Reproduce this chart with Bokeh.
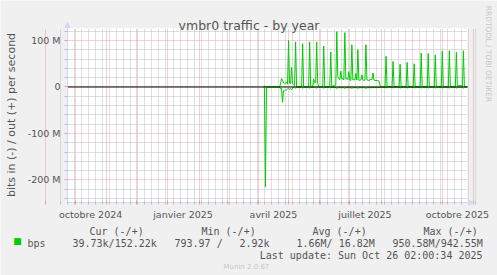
import math
import pandas as pd
from bokeh.plotting import figure
from bokeh.models import (FixedTicker, Label, Arrow, NormalHead, ColumnDataSource,
                          LinearAxis, Grid, BoxAnnotation)
from bokeh.embed import file_html
from bokeh.resources import INLINE

# ---------------- data (Mbit/s) ----------------
out_dates = [
    "2025-04-06", "2025-04-07", "2025-04-08", "2025-04-17", "2025-04-18", "2025-04-19",
    "2025-04-22", "2025-04-23", "2025-04-24", "2025-04-25", "2025-04-26", "2025-04-27",
    "2025-04-28", "2025-04-29", "2025-04-30", "2025-05-01", "2025-05-02", "2025-05-03",
    "2025-05-04", "2025-05-05", "2025-05-06", "2025-05-07", "2025-05-08", "2025-05-09",
    "2025-05-14", "2025-05-15", "2025-05-16", "2025-05-21", "2025-05-22", "2025-05-23",
    "2025-05-25", "2025-05-26", "2025-05-27", "2025-05-28", "2025-05-29", "2025-05-30",
    "2025-05-31", "2025-06-01", "2025-06-04", "2025-06-05", "2025-06-06", "2025-06-11",
    "2025-06-12", "2025-06-13", "2025-06-14", "2025-06-16", "2025-06-17", "2025-06-18",
    "2025-06-19", "2025-06-20", "2025-06-21", "2025-06-22", "2025-06-23", "2025-06-24",
    "2025-06-25", "2025-06-26", "2025-06-27", "2025-06-28", "2025-06-29", "2025-06-30",
    "2025-07-01", "2025-07-02", "2025-07-03", "2025-07-04", "2025-07-05", "2025-07-06",
    "2025-07-07", "2025-07-08", "2025-07-09", "2025-07-10", "2025-07-11", "2025-07-12",
    "2025-07-13", "2025-07-14", "2025-07-15", "2025-07-16", "2025-07-17", "2025-07-18",
    "2025-07-19", "2025-07-20", "2025-07-21", "2025-07-22", "2025-07-23", "2025-07-24",
    "2025-07-25", "2025-07-26", "2025-07-28", "2025-07-29", "2025-07-30", "2025-07-31",
    "2025-08-01", "2025-08-05", "2025-08-06", "2025-08-07", "2025-08-12", "2025-08-13",
    "2025-08-14", "2025-08-19", "2025-08-20", "2025-08-21", "2025-08-26", "2025-08-27",
    "2025-08-28", "2025-09-02", "2025-09-03", "2025-09-04", "2025-09-09", "2025-09-10",
    "2025-09-11", "2025-09-16", "2025-09-17", "2025-09-18", "2025-09-23", "2025-09-24",
    "2025-09-25", "2025-09-30", "2025-10-01", "2025-10-02", "2025-10-07", "2025-10-08",
    "2025-10-09", "2025-10-14", "2025-10-15", "2025-10-16", "2025-10-17", "2025-10-20",
    "2025-10-21", "2025-10-22", "2025-10-23", "2025-10-26",
]
out_mbps = [
    0.2, 2.0, 0.5, 0.3, 1.5, 0.4,
    0.5, 6, 18, 15, 9, 7,
    8, 11, 6, 100, 8, 7,
    42, 7, 5, 3, 97, 1,
    0.3, 93, 0.8, 0.3, 97, 0.8,
    0.5, 17, 9, 10, 97, 7,
    2, 0.3, 0.3, 88, 0.8, 0.3,
    75, 1, 2, 4, 4, 119,
    22, 18, 16, 34, 17, 18,
    15, 117, 17, 18, 16, 33,
    15, 14, 91, 15, 16, 15,
    29, 15, 80, 14, 15, 15,
    26, 15, 14, 15, 91, 15,
    15, 14, 15, 17, 16, 30,
    15, 14, 14, 13, 13, 4,
    0.3, 0.3, 66, 1, 0.3, 55,
    1, 0.3, 49, 1, 0.3, 53,
    1, 0.3, 50, 1, 0.3, 73,
    1, 0.3, 72, 1, 0.3, 69,
    1, 0.3, 77, 1, 0.3, 78,
    1, 0.3, 75, 1, 3, 3,
    0.3, 78, 1, 0.15,
]

in_dates = [
    "2025-04-06", "2025-04-07", "2025-04-08", "2025-04-09", "2025-04-10", "2025-04-17",
    "2025-04-18", "2025-04-19", "2025-04-22", "2025-04-23", "2025-04-24", "2025-04-25",
    "2025-04-26", "2025-04-27", "2025-04-28", "2025-04-29", "2025-04-30", "2025-05-01",
    "2025-05-02", "2025-05-03", "2025-05-04", "2025-05-05", "2025-05-06", "2025-05-07",
    "2025-05-08", "2025-05-09", "2025-05-14", "2025-05-15", "2025-05-16", "2025-05-21",
    "2025-05-22", "2025-05-23", "2025-05-28", "2025-05-29", "2025-05-30", "2025-06-04",
    "2025-06-05", "2025-06-06", "2025-06-11", "2025-06-12", "2025-06-13", "2025-06-17",
    "2025-06-18", "2025-06-19", "2025-06-25", "2025-06-26", "2025-06-27", "2025-07-02",
    "2025-07-03", "2025-07-04", "2025-07-08", "2025-07-09", "2025-07-10", "2025-07-16",
    "2025-07-17", "2025-07-18", "2025-07-31", "2025-08-01", "2025-08-05", "2025-08-06",
    "2025-08-07", "2025-08-12", "2025-08-13", "2025-08-14", "2025-08-19", "2025-08-20",
    "2025-08-21", "2025-08-26", "2025-08-27", "2025-08-28", "2025-09-02", "2025-09-03",
    "2025-09-04", "2025-09-09", "2025-09-10", "2025-09-11", "2025-09-16", "2025-09-17",
    "2025-09-18", "2025-09-23", "2025-09-24", "2025-09-25", "2025-09-30", "2025-10-01",
    "2025-10-02", "2025-10-07", "2025-10-08", "2025-10-09", "2025-10-14", "2025-10-15",
    "2025-10-16", "2025-10-21", "2025-10-22", "2025-10-23", "2025-10-26",
]
in_mbps = [
    -0.3, -1, -215, -1, -0.3, -0.3,
    -1.5, -0.5, -0.5, -4, -3, -33,
    -8, -7, -7, -6, -4, -3,
    -5, -4, -6, -2, -0.5, -0.5,
    -2.5, -0.5, -0.5, -2.5, -0.5, -0.5,
    -2.5, -0.5, -0.5, -2.5, -0.5, -0.5,
    -2.5, -0.5, -0.5, -2.5, -0.6, -1.2,
    -3, -1.5, -1.5, -3, -1.5, -1.5,
    -3, -1.5, -1.5, -3, -1.5, -1.5,
    -3, -1.5, -1.2, -0.5, -0.5, -2.5,
    -0.5, -0.5, -2.5, -0.5, -0.5, -2.5,
    -0.5, -0.5, -2.5, -0.5, -0.5, -2.5,
    -0.5, -0.5, -2.5, -0.5, -0.5, -2.5,
    -0.5, -0.5, -2.5, -0.5, -0.5, -2.5,
    -0.5, -0.5, -2.5, -0.5, -0.5, -2.5,
    -0.5, -0.5, -2.5, -0.5, -0.04,
]

y_major = [-200, -100, 0, 100]
y_major_labels = ["-200 M", "-100 M", "0", "100 M"]
y_minor = [-240, -220, -180, -160, -140, -120, -80, -60, -40, -20, 20, 40, 60, 80, 120]

x_label_dates = ["2024-10-16", "2025-01-16", "2025-04-16", "2025-07-16", "2025-10-16"]
x_label_texts = ["octobre 2024", "janvier 2025", "avril 2025", "juillet 2025", "octobre 2025"]

title_text = "vmbr0 traffic - by year"
ylabel_text = "bits in (-) / out (+) per second"
legend_name = "bps"
legend_headers = [("Cur (-/+)", 89), ("Min (-/+)", 201), ("Avg (-/+)", 312), ("Max (-/+)", 423)]
legend_values = [("39.73k/152.22k", 72), ("793.97 /", 174), ("2.92k", 239),
                 ("1.66M/ 16.82M", 296), ("950.58M/942.55M", 392)]
last_update = "Last update: Sun Oct 26 02:00:34 2025"
watermark = "RRDTOOL / TOBI OETIKER"
munin_ver = "Munin 2.0.67"

# ---------------- layout ----------------
W, H = 497, 275
PL, PR, PT, PB = 67, 467, 28, 202          # plot area in canvas pixels
GREEN = "#00CC00"
AXIS = "#CFD6F8"
MGRID = "#E8A0A0"
GRID = "#BEBEBE"
FONTC = "#555555"
SANS = "DejaVu Sans"
MONO = "DejaVu Sans Mono"


def ms(s):
    return pd.Timestamp(s).value / 1e6


t_left, t_right = ms("2024-09-23 00:00"), ms("2025-10-26 02:00")
y_lo, y_hi = -248.4, 125.8
kx = (t_right - t_left) / (PR - PL)
ky = (y_hi - y_lo) / (PB - PT)

# frame covers the whole canvas; the plot area is mapped onto PL..PR / PT..PB
p = figure(width=W, height=H, output_backend="svg", toolbar_location=None,
           x_axis_location=None, y_axis_location=None,
           x_range=(t_left - PL * kx, t_right + (W - PR) * kx),
           y_range=(y_lo - (H - PB) * ky, y_hi + PT * ky),
           min_border=0, background_fill_color="#F0F0F0", border_fill_color="#F0F0F0",
           outline_line_color=None)
p.grid.visible = False

p.add_layout(BoxAnnotation(left=t_left, right=t_right, bottom=y_lo, top=y_hi,
                           fill_color="white", fill_alpha=1, line_color=None, level="image"))

month_ticks = [t.value / 1e6 for t in pd.date_range("2024-09-01", "2025-11-01", freq="MS")]
week_ticks = [t.value / 1e6 for t in pd.date_range("2024-09-16", "2025-11-03", freq="W-MON")
              if t.value / 1e6 not in month_ticks]
xt = FixedTicker(ticks=month_ticks, minor_ticks=week_ticks)
yt = FixedTicker(ticks=y_major, minor_ticks=y_minor)

if "cross_bounds" in Grid.properties():
    p.add_layout(Grid(dimension=0, ticker=xt, bounds=(t_left, t_right), cross_bounds=(y_lo, y_hi),
                      grid_line_color=MGRID, grid_line_dash="1 1",
                      minor_grid_line_color=GRID, minor_grid_line_dash="1 1"))
    p.add_layout(Grid(dimension=1, ticker=yt, bounds=(y_lo, y_hi), cross_bounds=(t_left, t_right),
                      grid_line_color=MGRID, grid_line_dash="1 1",
                      minor_grid_line_color=GRID, minor_grid_line_dash="1 1"))
else:
    wk = [t for t in week_ticks if t_left <= t <= t_right]
    mo = [t for t in month_ticks if t_left <= t <= t_right]
    p.segment(wk, [y_lo] * len(wk), wk, [y_hi] * len(wk), line_color=GRID, line_dash="1 1", level="underlay")
    p.segment([t_left] * len(y_minor), y_minor, [t_right] * len(y_minor), y_minor,
              line_color=GRID, line_dash="1 1", level="underlay")
    p.segment(mo, [y_lo] * len(mo), mo, [y_hi] * len(mo), line_color=MGRID, line_dash="1 1", level="underlay")
    p.segment([t_left] * len(y_major), y_major, [t_right] * len(y_major), y_major,
              line_color=MGRID, line_dash="1 1", level="underlay")

# y axis
yax = LinearAxis(fixed_location=t_left, bounds=(y_lo, y_hi), ticker=yt,
                 axis_line_color=AXIS, major_tick_line_color=MGRID, minor_tick_line_color=GRID,
                 major_tick_in=0, major_tick_out=3, minor_tick_in=0, minor_tick_out=3,
                 major_label_overrides={v: t for v, t in zip(y_major, y_major_labels)},
                 major_label_text_font=SANS, major_label_text_font_size="9.5px",
                 major_label_text_color=FONTC, major_label_standoff=4)
p.add_layout(yax, "left")

# x axis: line + month / week ticks
xax = LinearAxis(fixed_location=y_lo, bounds=(t_left, t_right), ticker=xt,
                 axis_line_color=AXIS, major_tick_line_color=MGRID, minor_tick_line_color=GRID,
                 major_tick_in=2, major_tick_out=2, minor_tick_in=1, minor_tick_out=2,
                 major_label_text_alpha=0, major_label_text_font_size="2px")
p.add_layout(xax, "below")

# x axis: month labels at mid-month
label_ticks = [int(pd.Timestamp(d).value // 10**6) for d in x_label_dates]
xlab = LinearAxis(fixed_location=y_lo, bounds=(t_left, t_right),
                  ticker=FixedTicker(ticks=label_ticks, minor_ticks=[]),
                  axis_line_color=None, major_tick_line_color=None, minor_tick_line_color=None,
                  major_tick_in=0, major_tick_out=0,
                  major_label_overrides={k: t for k, t in zip(label_ticks, x_label_texts)},
                  major_label_text_font=SANS, major_label_text_font_size="9.5px",
                  major_label_text_color=FONTC, major_label_standoff=6)
p.add_layout(xlab, "below")

# data
src_out = ColumnDataSource(dict(x=pd.to_datetime(out_dates), y=out_mbps))
src_in = ColumnDataSource(dict(x=pd.to_datetime(in_dates), y=in_mbps))
p.line("x", "y", source=src_in, line_color=GREEN, line_width=1)
p.line("x", "y", source=src_out, line_color=GREEN, line_width=1)
p.line([t_left, t_right], [0, 0], line_color="black", line_width=1)

# axis arrows
p.add_layout(Arrow(end=NormalHead(size=5, fill_color=AXIS, line_color=AXIS, line_width=1),
                   x_start=t_left, y_start=y_hi, x_end=t_left, y_end=y_hi + 6 * ky,
                   line_color=AXIS))
p.add_layout(Arrow(end=NormalHead(size=5, fill_color=AXIS, line_color=AXIS, line_width=1),
                   x_start=t_right, y_start=y_lo, x_end=t_right + 6 * kx, y_end=y_lo,
                   line_color=AXIS))


def lab(x, y, text, size, color=FONTC, font=SANS, align="left", baseline="alphabetic", angle=0.0):
    p.add_layout(Label(x=x, y=H - y, x_units="screen", y_units="screen", text=text,
                       text_font=font, text_font_size=f"{size}px", text_color=color,
                       text_align=align, text_baseline=baseline, angle=angle))


lab(248.5, 25, title_text, 12.5, align="center")
lab(11, 114.5, ylabel_text, 11, align="center", baseline="middle", angle=math.pi / 2)
lab(488, 53.5, watermark, 7.5, color="#C8C8C8", align="center", baseline="middle", angle=-math.pi / 2)

for t, x in legend_headers:
    lab(x, 230.5, t, 10, font=MONO)
lab(17, 240.5, "■", 9, color=GREEN, align="center", baseline="middle")
lab(27, 243.3, legend_name, 10, font=MONO)
for t, x in legend_values:
    lab(x, 243.3, t, 10, font=MONO)
lab(482, 255, last_update, 10, font=MONO, align="right")
lab(223, 266, munin_ver, 7, color="#C8C8C8")

open("out.html", "w").write(file_html(p, INLINE))
